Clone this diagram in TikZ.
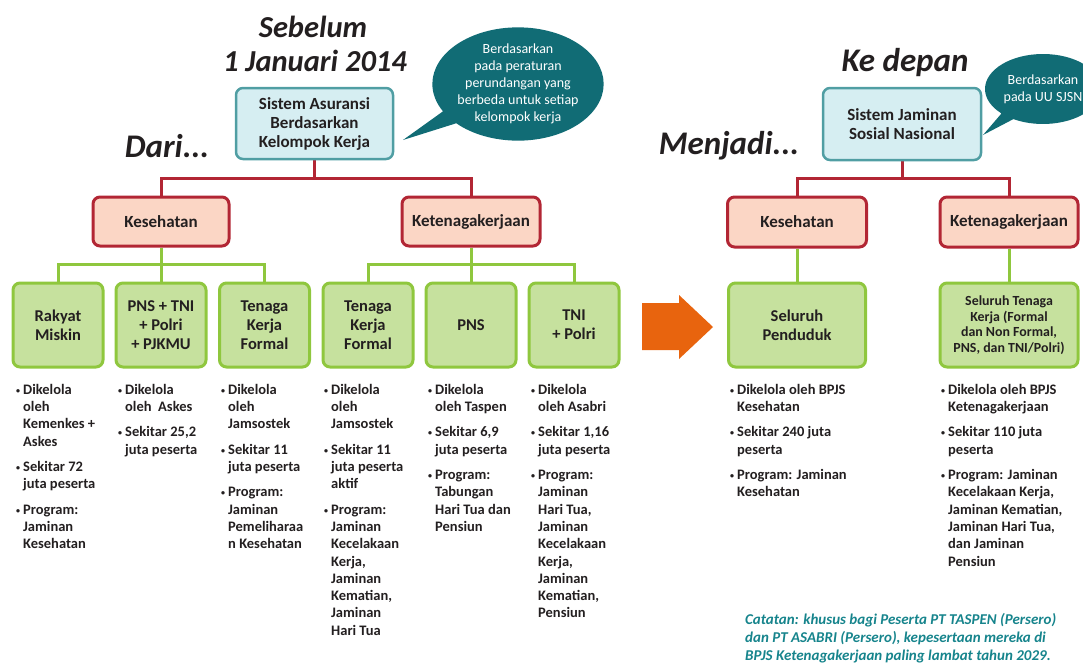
\documentclass[tikz,border=0pt]{standalone}
\usepackage{fontspec}
\setmainfont{Carlito}
\usetikzlibrary{shapes.geometric,shapes.callouts,backgrounds}
\definecolor{txt}{RGB}{35,31,32}
\definecolor{tealb}{RGB}{17,108,117}
\definecolor{bluefill}{RGB}{214,238,242}
\definecolor{blueline}{RGB}{80,158,163}
\definecolor{redline}{RGB}{178,38,52}
\definecolor{peach}{RGB}{251,214,197}
\definecolor{greenline}{RGB}{143,199,62}
\definecolor{greenfill}{RGB}{198,225,158}
\definecolor{orangea}{RGB}{232,100,14}
\definecolor{notec}{RGB}{22,132,140}
\newcommand\bdot{\raisebox{1pt}{\fontsize{8}{8}\selectfont\textbullet}}
\tikzset{
  topbox/.style={draw=blueline,fill=bluefill,line width=2.5pt,rounded corners=7pt,minimum width=157pt,minimum height=71pt,align=center,font=\bfseries\fontsize{17}{19}\selectfont,text=txt,inner sep=0pt},
  midbox/.style={draw=redline,fill=peach,line width=3pt,rounded corners=7pt,minimum height=49pt,align=center,font=\bfseries\fontsize{17}{19}\selectfont,text=txt,inner sep=0pt},
  leafbox/.style={draw=greenline,fill=greenfill,line width=3pt,rounded corners=7pt,minimum height=84pt,minimum width=90pt,align=center,font=\bfseries\fontsize{16.5}{19}\selectfont,text=txt,inner sep=0pt},
  redcon/.style={draw=redline,line width=3pt},
  greencon/.style={draw=greenline,line width=3pt},
  ttl/.style={font=\bfseries\itshape\fontsize{30.5}{35}\selectfont,text=txt,inner sep=0pt},
  bigttl/.style={font=\bfseries\itshape\fontsize{33}{38}\selectfont,text=txt,inner sep=0pt},
  bubble/.style={ellipse callout,fill=tealb,text=white,align=center,font=\fontsize{14}{17}\selectfont,inner sep=0pt},
  bullist/.style={anchor=north west,inner sep=0pt,text=txt,font=\bfseries\fontsize{14.5}{17.3}\selectfont,align=left},
}
\begin{document}
\begin{tikzpicture}[x=1pt,y=-1pt]
\useasboundingbox (0,0) rectangle (1083,664);

% titles
\node[ttl] (seb) at (313,27) {Sebelum};
\node[ttl] (jan) at (315,61) {1 Januari 2014};
\node[bigttl] (dari) at (167,146) {Dari...};
\node[bigttl] (ked) at (905,63) {Ke depan};
\node[bigttl] (menj) at (729,146) {Menjadi...};

% bubbles
\node[bubble,minimum width=170pt,minimum height=102pt,callout absolute pointer={(403,140)}] (bubA) at (518,84)
  {Berdasarkan\\pada peraturan\\perundangan yang\\berbeda untuk setiap\\kelompok kerja};
\node[bubble,minimum width=116pt,minimum height=70pt,callout absolute pointer={(983,135)}] (bubB) at (1043,89)
  {Berdasarkan\\pada UU SJSN};

% left tree
\node[topbox] (sysA) at (314.5,123.5) {Sistem Asuransi\\Berdasarkan\\Kelompok Kerja};
\node[midbox,minimum width=136pt] (kesA) at (161,221.5) {Kesehatan};
\node[midbox,minimum width=138pt] (ketA) at (471,221.5) {Ketenagakerjaan};
\node[leafbox] (l1) at (58,325) {Rakyat\\Miskin};
\node[leafbox] (l2) at (161,325) {PNS + TNI\\+ Polri\\+ PJKMU};
\node[leafbox] (l3) at (264.5,325) {Tenaga\\Kerja\\Formal};
\node[leafbox] (l4) at (368,325) {Tenaga\\Kerja\\Formal};
\node[leafbox] (l5) at (471,325) {PNS};
\node[leafbox] (l6) at (574,325) {TNI\\+ Polri};

% right tree
\node[topbox,minimum width=158pt,minimum height=72pt] (sysB) at (902,124) {Sistem Jaminan\\Sosial Nasional};
\node[midbox,minimum width=139pt,minimum height=50pt] (kesB) at (797,222) {Kesehatan};
\node[midbox,minimum width=138pt,minimum height=50pt] (ketB) at (1009,222) {Ketenagakerjaan};
\node[leafbox,minimum width=137pt] (r1) at (797,325) {Seluruh\\Penduduk};
\node[leafbox,minimum width=138pt,font=\bfseries\fontsize{13.9}{15.5}\selectfont] (r2) at (1009,325)
  {Seluruh Tenaga\\Kerja (Formal\\dan Non Formal,\\PNS, dan TNI/Polri)};

% connectors
\begin{scope}[on background layer]
\draw[redcon] (sysA.south) -- ++(0,18) coordinate (jA) -| (kesA.north);
\draw[redcon] (jA) -| (ketA.north);
\draw[greencon] (kesA.south) -- ++(0,17) coordinate (gA) -| (l1.north);
\draw[greencon] (gA) -| (l3.north);
\draw[greencon] (kesA.south) -- (l2.north);
\draw[greencon] (ketA.south) -- ++(0,17) coordinate (gB) -| (l4.north);
\draw[greencon] (gB) -| (l6.north);
\draw[greencon] (ketA.south) -- (l5.north);
\draw[redcon] (sysB.south) -- ++(0,17) coordinate (jB) -| (kesB.north);
\draw[redcon] (jB) -| (ketB.north);
\draw[greencon] (kesB.south) -- (r1.north);
\draw[greencon] (ketB.south) -- (r2.north);
\end{scope}

% arrow
\fill[orangea] (642,303) -- (679,303) -- (679,295) -- (713,327) -- (679,359) -- (679,350) -- (642,350) -- cycle;

% lists
\node[bullist] (c1) at (16,382) {\begin{tabular}{@{}l@{\hspace{3pt}}l@{}}
\bdot & Dikelola\\ & oleh\\ & Kemenkes +\\ & Askes\\[8pt]
\bdot & Sekitar 72\\ & juta peserta\\[8pt]
\bdot & Program:\\ & Jaminan\\ & Kesehatan
\end{tabular}};
\node[bullist] (c2) at (118,382) {\begin{tabular}{@{}l@{\hspace{3pt}}l@{}}
\bdot & Dikelola\\ & oleh\ \ Askes\\[8pt]
\bdot & Sekitar 25,2\\ & juta peserta
\end{tabular}};
\node[bullist] (c3) at (221,382) {\begin{tabular}{@{}l@{\hspace{3pt}}l@{}}
\bdot & Dikelola\\ & oleh\\ & Jamsostek\\[8pt]
\bdot & Sekitar 11\\ & juta peserta\\[8pt]
\bdot & Program:\\ & Jaminan\\ & Pemeliharaa\\ & n Kesehatan
\end{tabular}};
\node[bullist] (c4) at (324,382) {\begin{tabular}{@{}l@{\hspace{3pt}}l@{}}
\bdot & Dikelola\\ & oleh\\ & Jamsostek\\[8pt]
\bdot & Sekitar 11\\ & juta peserta\\ & aktif\\[8pt]
\bdot & Program:\\ & Jaminan\\ & Kecelakaan\\ & Kerja,\\ & Jaminan\\ & Kematian,\\ & Jaminan\\ & Hari Tua
\end{tabular}};
\node[bullist] (c5) at (428,382) {\begin{tabular}{@{}l@{\hspace{3pt}}l@{}}
\bdot & Dikelola\\ & oleh Taspen\\[8pt]
\bdot & Sekitar 6,9\\ & juta peserta\\[8pt]
\bdot & Program:\\ & Tabungan\\ & Hari Tua dan\\ & Pensiun
\end{tabular}};
\node[bullist] (c6) at (531,382) {\begin{tabular}{@{}l@{\hspace{3pt}}l@{}}
\bdot & Dikelola\\ & oleh Asabri\\[8pt]
\bdot & Sekitar 1,16\\ & juta peserta\\[8pt]
\bdot & Program:\\ & Jaminan\\ & Hari Tua,\\ & Jaminan\\ & Kecelakaan\\ & Kerja,\\ & Jaminan\\ & Kematian,\\ & Pensiun
\end{tabular}};
\node[bullist] (c7) at (730,382) {\begin{tabular}{@{}l@{\hspace{3pt}}l@{}}
\bdot & Dikelola oleh BPJS\\ & Kesehatan\\[8pt]
\bdot & Sekitar 240 juta\\ & peserta\\[8pt]
\bdot & Program: Jaminan\\ & Kesehatan
\end{tabular}};
\node[bullist] (c8) at (941,382) {\begin{tabular}{@{}l@{\hspace{3pt}}l@{}}
\bdot & Dikelola oleh BPJS\\ & Ketenagakerjaan\\[8pt]
\bdot & Sekitar 110 juta\\ & peserta\\[8pt]
\bdot & Program: Jaminan\\ & Kecelakaan Kerja,\\ & Jaminan Kematian,\\ & Jaminan Hari Tua,\\ & dan Jaminan\\ & Pensiun
\end{tabular}};

% note
\node[anchor=north west,inner sep=0pt,text=notec,align=left,font=\bfseries\itshape\fontsize{15}{18}\selectfont] (note) at (745,613)
  {Catatan: khusus bagi Peserta PT TASPEN (Persero)\\dan PT ASABRI (Persero), kepesertaan mereka di\\BPJS Ketenagakerjaan paling lambat tahun 2029.};
\end{tikzpicture}
\end{document}
